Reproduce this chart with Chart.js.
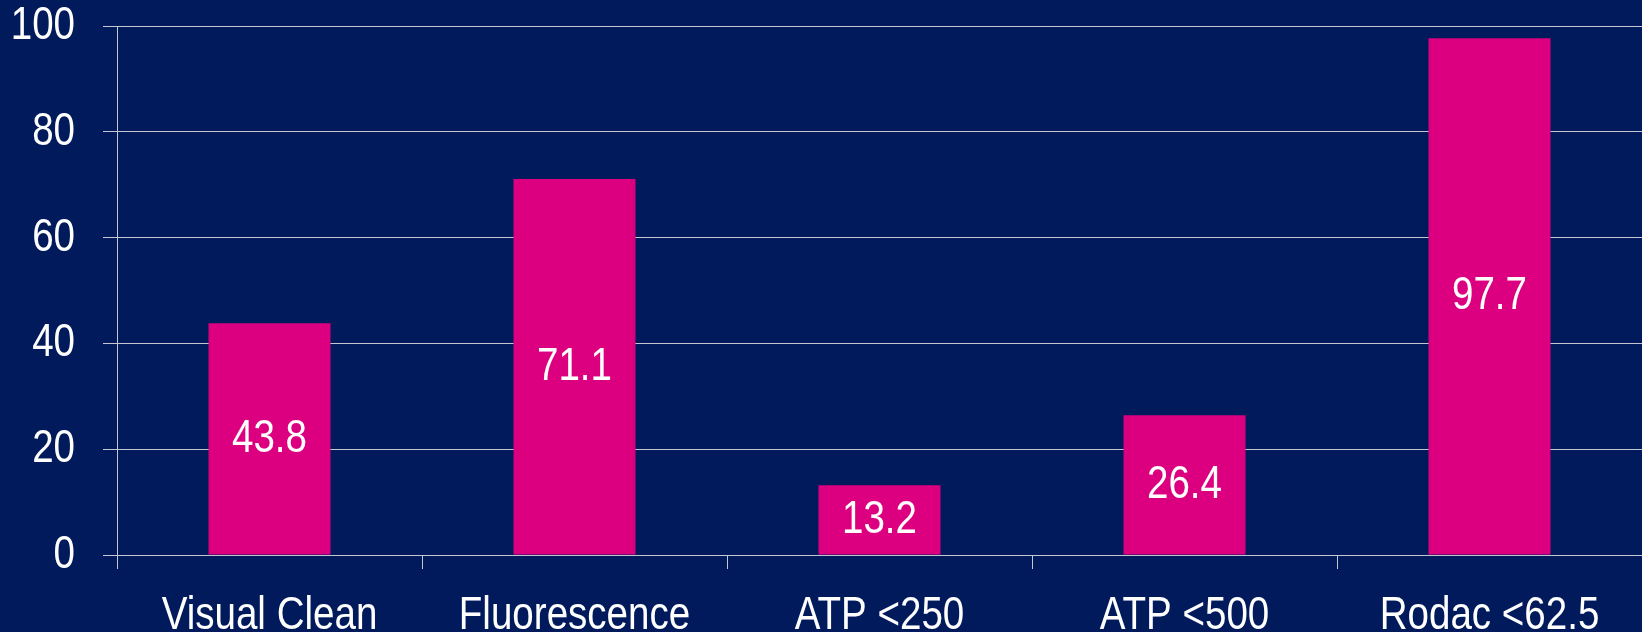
<!DOCTYPE html>
<html>
<head>
<meta charset="utf-8">
<script src="https://cdn.jsdelivr.net/npm/chart.js@4/dist/chart.umd.min.js"></script>
<style>
    html, body { margin: 0; padding: 0; background: #011a5b; overflow: hidden; }
    #chart { display: block; }
</style>
</head>
<body>
<canvas id="chart" width="1642" height="632"></canvas>
<script>
// Chart data
const categories = ['Visual Clean', 'Fluorescence', 'ATP <250', 'ATP <500', 'Rodac <62.5'];
const values = [43.8, 71.1, 13.2, 26.4, 97.7];
const yTicks = [0, 20, 40, 60, 80, 100];

const FONT = '47px "Liberation Sans", Arial, sans-serif';
const NARROW = 0.82; // no Arial Narrow installed, so squeeze Liberation Sans
const GRID = '#c4c6d2';

// Draw a condensed string with its anchor at (x, y)
function narrowText(ctx, text, x, y, align, baseline) {
    ctx.save();
    ctx.translate(x, y);
    ctx.scale(NARROW, 1);
    ctx.textAlign = align;
    ctx.textBaseline = baseline;
    ctx.fillText(text, 0, 0);
    ctx.restore();
}

/**
 * Axis labels and bar values, drawn condensed from the chart's own scales
 */
const narrowLabels = {
    id: 'narrowLabels',
    afterDraw(chart) {
        const ctx = chart.ctx;
        const xScale = chart.scales.x;
        const yScale = chart.scales.y;
        const area = chart.chartArea;

        ctx.save();
        ctx.fillStyle = '#ffffff';
        ctx.font = FONT;

        // Y tick labels
        yScale.ticks.forEach(t => {
            narrowText(ctx, String(t.value), yScale.right - 42, yScale.getPixelForValue(t.value), 'right', 'middle');
        });

        // X category labels
        categories.forEach((label, i) => {
            narrowText(ctx, label, xScale.getPixelForTick(i), area.bottom + 74, 'center', 'alphabetic');
        });

        // Values in the middle of each bar
        chart.getDatasetMeta(0).data.forEach((bar, i) => {
            narrowText(ctx, values[i].toFixed(1), bar.x, (bar.y + bar.base) / 2, 'center', 'middle');
        });
        ctx.restore();
    }
};

const ctx = document.getElementById('chart').getContext('2d');

new Chart(ctx, {
    type: 'bar',
    data: {
        labels: categories,
        datasets: [{
            data: values,
            backgroundColor: '#dc0080',
            borderWidth: 0,
            barPercentage: 0.4,
            categoryPercentage: 1
        }]
    },
    options: {
        responsive: false,
        animation: false,
        layout: { padding: { top: 26, right: -5, left: 0, bottom: 0 } },
        plugins: {
            legend: { display: false },
            tooltip: { enabled: false }
        },
        scales: {
            x: {
                offset: true,
                grid: {
                    offset: true,
                    drawOnChartArea: false,
                    drawTicks: true,
                    tickLength: 14,
                    color: GRID,
                    lineWidth: 1
                },
                border: { display: false },
                ticks: { display: false, autoSkip: false, maxRotation: 0 },
                afterFit(scale) { scale.height = 77; }
            },
            y: {
                min: 0,
                max: 100,
                afterBuildTicks(scale) {
                    scale.ticks = yTicks.map(v => ({ value: v }));
                },
                grid: {
                    color: GRID,
                    lineWidth: 1,
                    drawTicks: true,
                    tickLength: 14
                },
                border: { display: true, color: GRID, width: 1 },
                ticks: { display: false },
                afterFit(scale) { scale.width = 117; }
            }
        }
    },
    plugins: [narrowLabels]
});
</script>
</body>
</html>
